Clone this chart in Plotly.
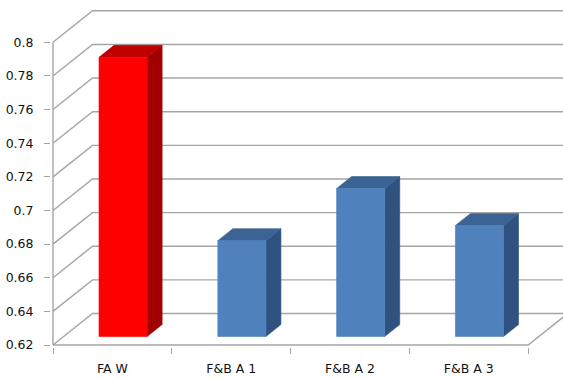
import plotly.graph_objects as go

# ---- data ----
categories = ["FA W", "F&B A 1", "F&B A 2", "F&B A 3"]
values = [0.786, 0.677, 0.708, 0.686]
front_colors = ["#FF0000", "#4F81BD", "#4F81BD", "#4F81BD"]
top_colors = ["#C00000", "#3B6393", "#3B6393", "#3B6393"]
side_colors = ["#A00000", "#2F5280", "#2F5280", "#2F5280"]
y_ticks = [0.62, 0.64, 0.66, 0.68, 0.70, 0.72, 0.74, 0.76, 0.78, 0.80]
y_tick_labels = ["0.62", "0.64", "0.66", "0.68", "0.7", "0.72", "0.74", "0.76", "0.78", "0.8"]

# ---- geometry of the oblique 3D projection ----
W, H = 563, 378
SX = 118.8      # px per category
SY = 1681.7     # px per value unit
Y_BASE = y_ticks[0]
Y_TOP = y_ticks[-1]
DX = 39.5 / SX  # full depth offset in x units
DY = 31.5 / SY  # full depth offset in y units
D0, D1 = 0.27, 0.65   # bar front / back depth fraction
BW = 0.405            # bar width in category units
GRID = "#A5A5A5"

n = len(categories)
x_left = -0.5
x_right = n - 0.5
ml, mb = 51, 31
xmin = x_left - (53 - ml) / SX
xmax = x_left + (W - 53) / SX
ymin = Y_BASE - (H - mb - 345) / SY
ymax = Y_BASE + 345 / SY


def proj(x, y, d):
    return x + d * DX, y + d * DY


fig = go.Figure()

# walls (side wall diagonals + back wall gridlines)
gx, gy = [], []
for t in y_ticks:
    for p in (proj(x_left, t, 0), proj(x_left, t, 1), proj(x_right + 1, t, 1)):
        gx.append(p[0]); gy.append(p[1])
    gx.append(None); gy.append(None)
# floor front edge and right edge
for p in (proj(x_left, Y_BASE, 0), proj(x_right, Y_BASE, 0), proj(x_right, Y_BASE, 1)):
    gx.append(p[0]); gy.append(p[1])
gx.append(None); gy.append(None)
# vertical axis line
for p in (proj(x_left, Y_BASE, 0), proj(x_left, Y_TOP, 0)):
    gx.append(p[0]); gy.append(p[1])

fig.add_trace(go.Scatter(x=gx, y=gy, mode="lines",
                         line=dict(color=GRID, width=1.4),
                         hoverinfo="skip", showlegend=False))

# bars
for i, v in enumerate(values):
    xl, xr = i - BW / 2, i + BW / 2
    faces = [
        ([proj(xr, Y_BASE, D0), proj(xr, v, D0), proj(xr, v, D1), proj(xr, Y_BASE, D1)], side_colors[i]),
        ([proj(xl, v, D0), proj(xr, v, D0), proj(xr, v, D1), proj(xl, v, D1)], top_colors[i]),
        ([proj(xl, Y_BASE, D0), proj(xr, Y_BASE, D0), proj(xr, v, D0), proj(xl, v, D0)], front_colors[i]),
    ]
    for pts, col in faces:
        px = [p[0] for p in pts] + [pts[0][0]]
        py = [p[1] for p in pts] + [pts[0][1]]
        fig.add_trace(go.Scatter(x=px, y=py, mode="lines", fill="toself",
                                 fillcolor=col, line=dict(color=col, width=0.6),
                                 hoverinfo="skip", showlegend=False))

fig.update_layout(
    width=W, height=H, autosize=False,
    margin=dict(l=ml, r=0, t=0, b=mb),
    paper_bgcolor="white", plot_bgcolor="white",
    font=dict(family="DejaVu Sans", size=12.5, color="#111111"),
    showlegend=False,
    xaxis=dict(range=[xmin, xmax], showgrid=False, zeroline=False, showline=False,
               tickmode="array", tickvals=list(range(n)), ticktext=categories,
               ticks="", tickfont=dict(size=12.5), ticklabelstandoff=12,
               minor=dict(tickmode="array",
                          tickvals=[k - 0.5 for k in range(n + 1)],
                          ticks="outside", ticklen=6, tickcolor=GRID, tickwidth=1.4)),
    yaxis=dict(range=[ymin, ymax], showgrid=False, zeroline=False, showline=False,
               tickmode="array", tickvals=y_ticks, ticktext=y_tick_labels,
               ticks="outside", ticklen=6, tickcolor=GRID, tickwidth=1.4,
               ticklabelstandoff=8),
)

fig.write_html("out.html")
